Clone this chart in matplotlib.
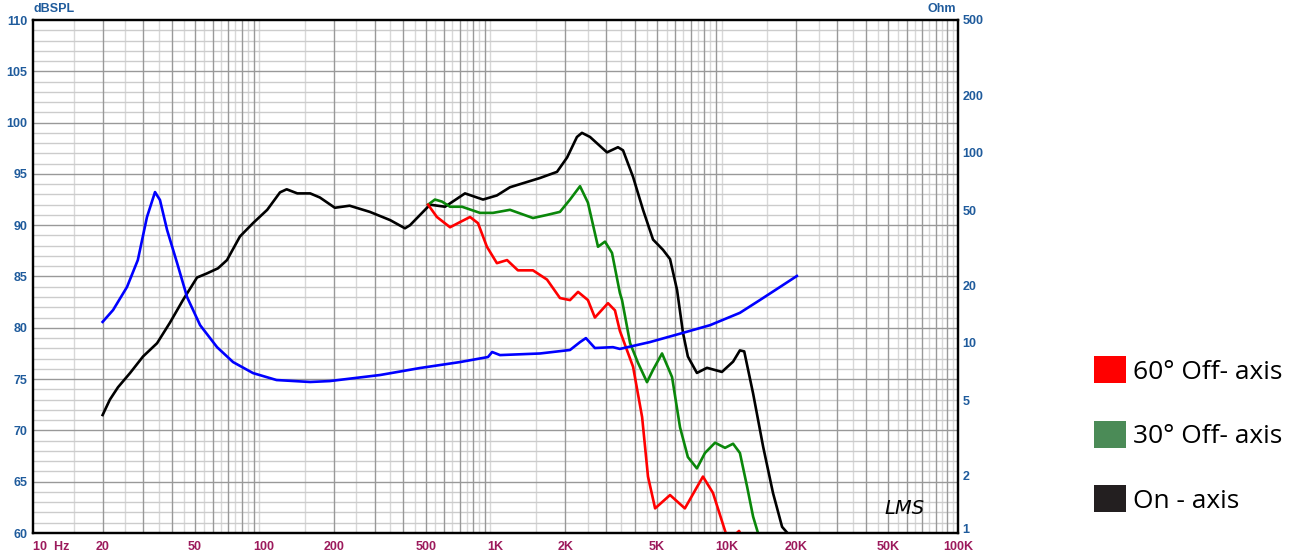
import numpy as np
import matplotlib
matplotlib.use("Agg")
import matplotlib.pyplot as plt
from matplotlib.patches import Patch

# ---- data (Hz, dB SPL / Ohm) ----
on_f = [20, 21.5, 23.3, 26.3, 29.9, 34.4, 39.1, 44.5, 51.2, 56.5, 63.1, 69, 78.5, 89.4,
        103, 117, 125, 139, 158, 174, 202, 234, 286, 350, 406, 427, 521, 605, 738, 883,
        1014, 1155, 1557, 1845, 2040, 2250, 2365, 2563, 3035, 3385, 3560, 3935, 4345,
        4800, 5300, 5685, 6095, 6470, 6790, 7430, 8215, 9530, 10650, 11400, 11900,
        13000, 14370, 15850, 17350, 18300]
on_db = [71.5, 73.0, 74.2, 75.6, 77.2, 78.5, 80.5, 82.7, 84.9, 85.3, 85.8, 86.6, 88.9, 90.2,
         91.5, 93.2, 93.5, 93.1, 93.1, 92.7, 91.7, 91.9, 91.3, 90.5, 89.7, 90.0, 92.0, 91.8,
         93.1, 92.5, 92.9, 93.7, 94.6, 95.2, 96.6, 98.6, 99.0, 98.6, 97.1, 97.6, 97.3, 94.7,
         91.5, 88.6, 87.6, 86.7, 83.7, 79.5, 77.2, 75.6, 76.1, 75.7, 76.7, 77.8, 77.7,
         73.6, 68.4, 63.9, 60.6, 60.0]

off30_f = [511, 547, 587, 636, 716, 857, 975, 1155, 1452, 1670, 1900, 2100, 2320, 2510,
           2775, 2975, 3190, 3450, 3525, 3820, 4130, 4520, 4800, 5250, 5800, 6280, 6790,
           7430, 8050, 8900, 9830, 10650, 11400, 12250, 13000, 13650]
off30_db = [92.0, 92.5, 92.3, 91.8, 91.8, 91.2, 91.2, 91.5, 90.7, 91.0, 91.3, 92.5, 93.8, 92.2,
            87.9, 88.4, 87.3, 83.4, 82.7, 78.5, 76.6, 74.7, 75.9, 77.5, 75.2, 70.3, 67.4,
            66.3, 67.8, 68.8, 68.3, 68.7, 67.8, 64.5, 61.6, 60.0]

off60_f = [511, 558, 636, 702, 776, 840, 918, 1014, 1122, 1250, 1452, 1670, 1900, 2100,
           2275, 2510, 2690, 3065, 3285, 3450, 3935, 4305, 4565, 4900, 5685, 6590, 7890,
           8720, 10030, 10700, 11300, 11800]
off60_db = [92.0, 90.8, 89.8, 90.3, 90.8, 90.2, 87.9, 86.3, 86.6, 85.6, 85.6, 84.7, 82.9, 82.7,
            83.5, 82.7, 81.0, 82.4, 81.7, 79.7, 76.2, 71.3, 65.5, 62.4, 63.7, 62.4, 65.5,
            63.9, 59.6, 59.7, 60.2, 59.4]

imp_f = [20, 22.2, 25.5, 28.4, 31.1, 33.7, 35.4, 38.0, 42.0, 46.4, 52.8, 62.5, 73.3, 89.4,
         113, 158, 192, 317, 472, 702, 928, 967, 1046, 1557, 2100, 2320, 2460, 2690, 3220,
         3450, 4650, 6470, 8470, 11400, 13900, 17000, 20100]
imp_ohm = [12.9, 14.9, 19.7, 27.3, 45.9, 62.2, 56.5, 39.3, 26.3, 17.4, 12.4, 9.5, 7.93, 6.94,
           6.38, 6.23, 6.30, 6.78, 7.38, 7.93, 8.43, 8.96, 8.63, 8.80, 9.18, 10.1, 10.6, 9.4,
           9.5, 9.3, 10.1, 11.3, 12.4, 14.4, 16.8, 19.7, 22.5]

x_ticks = [10, 20, 50, 100, 200, 500, 1000, 2000, 5000, 10000, 20000, 50000, 100000]
x_labels = ["10  Hz", "20", "50", "100", "200", "500", "1K", "2K", "5K", "10K", "20K", "50K", "100K"]
db_ticks = [60, 65, 70, 75, 80, 85, 90, 95, 100, 105, 110]
ohm_ticks = [1, 2, 5, 10, 20, 50, 100, 200, 500]

series_names = ["60° Off- axis", "30° Off- axis", "On - axis"]
legend_colors = ["#ff0000", "#4b8b57", "#231f20"]

blue_lbl = "#1f5b9c"
mag_lbl = "#9c1a5c"
lbl_size = 9

fig = plt.figure(figsize=(13.10, 5.53), dpi=100)
ax = fig.add_axes([33 / 1310, 20 / 553, 925 / 1310, 513 / 553])
ax.set_xscale("log")
ax.set_xlim(10, 100000)
ax.set_ylim(60, 110)

# grid: integer multiples darker, half steps lighter
for dec in [10, 100, 1000, 10000]:
    for m in range(1, 10):
        if m > 1:
            ax.axvline(dec * m, color="#999999", lw=1.0, zorder=1)
        ax.axvline(dec * (m + 0.5), color="#d8d8d8", lw=1.0, zorder=0.9)
for d in range(61, 110):
    if d % 5 == 0:
        ax.axhline(d, color="#999999", lw=1.0, zorder=1)
    else:
        ax.axhline(d, color="#cccccc", lw=1.0, zorder=0.9)

ax.plot(on_f, on_db, color="black", lw=1.9, zorder=4)
ax.plot(off30_f, off30_db, color="#0a870a", lw=1.9, zorder=5)
ax.plot(off60_f, off60_db, color="#ff0000", lw=1.9, zorder=6)

ax.set_xticks(x_ticks)
ax.set_xticklabels(x_labels)
ax.xaxis.set_minor_locator(matplotlib.ticker.NullLocator())
ax.set_yticks(db_ticks)
ax.set_yticklabels([str(v) for v in db_ticks])
ax.tick_params(axis="x", length=0, pad=5.5, labelsize=lbl_size, labelcolor=mag_lbl)
ax.tick_params(axis="y", length=0, pad=4, labelsize=lbl_size, labelcolor=blue_lbl)
for lbl in ax.get_xticklabels() + ax.get_yticklabels():
    lbl.set_fontweight("bold")
    lbl.set_family("Liberation Sans")
ax.get_xticklabels()[0].set_horizontalalignment("left")

ax2 = ax.twinx()
ax2.set_yscale("log")
ax2.set_ylim(1, 500)
ax2.plot(imp_f, imp_ohm, color="#0000ff", lw=1.9, zorder=3)
ax2.set_yticks(ohm_ticks)
ax2.set_yticklabels([str(v) for v in ohm_ticks])
ax2.yaxis.set_minor_locator(matplotlib.ticker.NullLocator())
ax2.tick_params(axis="y", length=0, pad=3, labelsize=lbl_size, labelcolor=blue_lbl)
for lbl in ax2.get_yticklabels():
    lbl.set_fontweight("bold")
    lbl.set_family("Liberation Sans")
ax2.get_yticklabels()[0].set_verticalalignment("baseline")

for a in (ax, ax2):
    for s in a.spines.values():
        s.set_color("black")
        s.set_linewidth(1.6)

fig.text(33 / 1310, 1 - 9 / 553, "dBSPL", color=blue_lbl, fontsize=lbl_size, fontweight="bold",
         family="Liberation Sans", ha="left", va="center")
fig.text(956 / 1310, 1 - 9 / 553, "Ohm", color=blue_lbl, fontsize=lbl_size, fontweight="bold",
         family="Liberation Sans", ha="right", va="center")
ax.text(0.942, 0.03, "LMS", transform=ax.transAxes, fontsize=14, style="italic",
        ha="center", va="bottom", color="black", zorder=7)

fs = 19
handles = [Patch(facecolor=c, edgecolor="none") for c in legend_colors]
fig.legend(handles, series_names, loc="upper left",
           bbox_to_anchor=(1094 / 1310, 1 - 356 / 553), frameon=False,
           prop={"family": "Open Sans", "size": fs}, handlelength=23 / fs, handleheight=23 / fs,
           handletextpad=0.28, labelspacing=26 / fs, borderaxespad=0, borderpad=0)

fig.savefig("out.png", dpi=100)
